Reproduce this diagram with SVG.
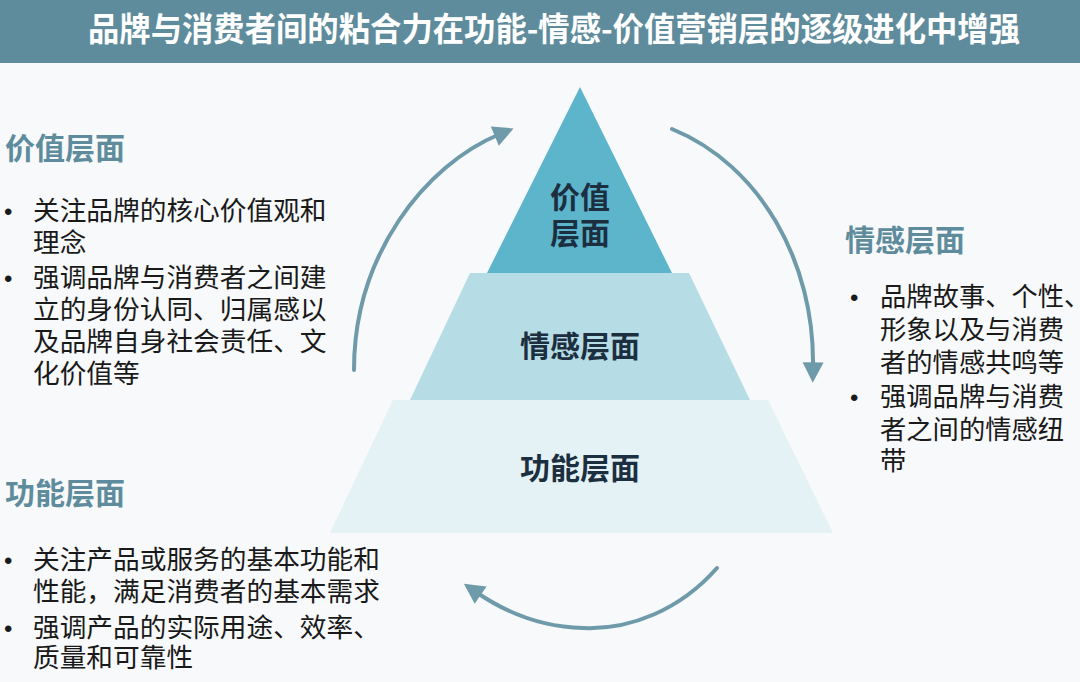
<svg xmlns="http://www.w3.org/2000/svg" width="1080" height="682" viewBox="0 0 1080 682">
<style>
text{font-family:"Noto Sans CJK SC","Noto Sans",sans-serif}
.title{font-size:33px;font-weight:700;fill:#ffffff}
.lvl{font-size:30px;font-weight:700;fill:#1c2f40;text-anchor:middle}
.head{font-size:30px;font-weight:700;fill:#5e8c9c}
.body{font-size:26.7px;font-weight:400;fill:#1a1a1a}
.bodyr{font-size:26.3px;font-weight:400;fill:#1a1a1a}
.bul{font-family:"Liberation Sans",sans-serif;font-size:24px;fill:#1a1a1a}
.arr{fill:none;stroke:#6f9aaa;stroke-width:4;stroke-linecap:round}
</style>
<defs>
<marker id="ah" viewBox="0 0 10 10" refX="3" refY="5" markerWidth="7" markerHeight="7" markerUnits="userSpaceOnUse" orient="auto" overflow="visible">
<path d="M-5,-10 L24,5 L-5,20 Z" fill="#6f9aaa"/>
</marker>
</defs>
<rect x="0" y="0" width="1080" height="682" fill="#f7f9fa"/>
<g id="title">
<rect x="0" y="0" width="1080" height="63" fill="#5e8c9c"/>
<text class="title" x="88" y="41" textLength="932" lengthAdjust="spacingAndGlyphs">品牌与消费者间的粘合力在功能-情感-价值营销层的逐级进化中增强</text>
</g>
<g id="level-function">
<polygon points="393,400 768,400 833,533 330,533" fill="#e4f2f5"/>
<text class="lvl" x="580" y="479">功能层面</text>
</g>
<g id="level-emotion">
<polygon points="470,273 689,273 750,400 410,400" fill="#b6dde6"/>
<text class="lvl" x="580" y="357">情感层面</text>
</g>
<g id="level-value">
<polygon points="580,87 672,273 487,273" fill="#5db5cc"/>
<text class="lvl" x="580" y="208">价值</text>
<text class="lvl" x="580" y="244">层面</text>
</g>
<g id="connectors">
<path class="arr" d="M354,370 C354,255 425,165 500,134" marker-end="url(#ah)"/>
<path class="arr" d="M672,129 C760,165 815,262 813,368" marker-end="url(#ah)"/>
<path class="arr" d="M717,568 C680,610 630,630 583,628 C540,627 505,612 476,592" marker-end="url(#ah)"/>
</g>
<g id="desc-value">
<text class="head" x="5" y="159">价值层面</text>
<text class="bul" x="4" y="220">•</text>
<text class="body" x="33" y="220">关注品牌的核心价值观和</text>
<text class="body" x="33" y="252">理念</text>
<text class="bul" x="4" y="287">•</text>
<text class="body" x="33" y="287">强调品牌与消费者之间建</text>
<text class="body" x="33" y="319">立的身份认同、归属感以</text>
<text class="body" x="33" y="351">及品牌自身社会责任、文</text>
<text class="body" x="33" y="383">化价值等</text>
</g>
<g id="desc-emotion">
<text class="head" x="845" y="251">情感层面</text>
<text class="bul" x="850" y="306">•</text>
<text class="bodyr" x="880" y="306">品牌故事、个性、</text>
<text class="bodyr" x="880" y="339">形象以及与消费</text>
<text class="bodyr" x="880" y="372">者的情感共鸣等</text>
<text class="bul" x="850" y="406">•</text>
<text class="bodyr" x="880" y="406">强调品牌与消费</text>
<text class="bodyr" x="880" y="439">者之间的情感纽</text>
<text class="bodyr" x="880" y="470">带</text>
</g>
<g id="desc-function">
<text class="head" x="5" y="504">功能层面</text>
<text class="bul" x="4" y="569">•</text>
<text class="body" x="33" y="569">关注产品或服务的基本功能和</text>
<text class="body" x="33" y="601">性能，满足消费者的基本需求</text>
<text class="bul" x="4" y="637">•</text>
<text class="body" x="33" y="637">强调产品的实际用途、效率、</text>
<text class="body" x="33" y="667">质量和可靠性</text>
</g>
</svg>
